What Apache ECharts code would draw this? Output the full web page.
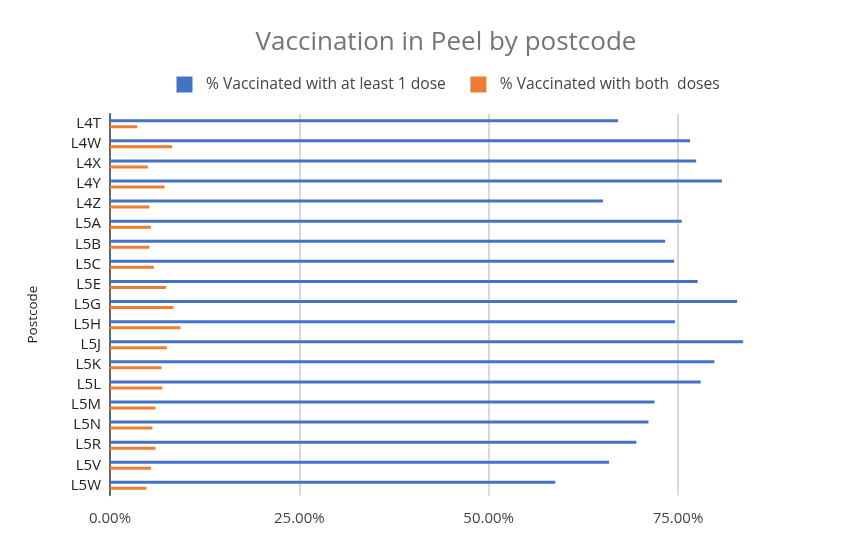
<!DOCTYPE html>
<html>
<head>
<meta charset="utf-8">
<script src="https://cdn.jsdelivr.net/npm/echarts@6/dist/echarts.min.js"></script>
<style>html,body{margin:0;padding:0;background:#fff}#c{width:855px;height:544px}</style>
</head>
<body>
<div id="c"></div>
<script>
var categories = ["L4T","L4W","L4X","L4Y","L4Z","L5A","L5B","L5C","L5E","L5G","L5H","L5J","L5K","L5L","L5M","L5N","L5R","L5V","L5W"];
var atLeastOne = [67.1,76.6,77.4,80.8,65.1,75.5,73.3,74.5,77.6,82.8,74.6,83.6,79.8,78.0,71.9,71.1,69.5,65.9,58.8];
var bothDoses = [3.6,8.2,5.0,7.2,5.2,5.4,5.2,5.8,7.4,8.4,9.3,7.5,6.8,6.9,6.0,5.6,6.0,5.4,4.8];
var seriesNames = ["% Vaccinated with at least 1 dose", "% Vaccinated with both  doses"];
var xTicks = [0, 25, 50, 75];

var font = "'Open Sans', 'Noto Sans', sans-serif";
var chart = echarts.init(document.getElementById('c'), null, {renderer: 'canvas'});
chart.setOption({
  animation: false,
  backgroundColor: '#ffffff',
  title: {
    text: 'Vaccination in Peel by postcode',
    left: 441, top: 25, textAlign: 'center',
    textStyle: {fontFamily: font, fontSize: 26, fontWeight: 'normal', color: '#757575'}
  },
  legend: {
    left: 171.5, top: 71.5,
    itemWidth: 16, itemHeight: 16, itemGap: 24.5,
    icon: 'rect',
    textStyle: {fontFamily: font, fontSize: 15.6, color: '#444444', padding: [0, 0, 0, 8.5]},
    data: seriesNames
  },
  grid: {left: 110, top: 113.7, right: 101.3, bottom: 48.6, containLabel: false},
  xAxis: {
    type: 'value', min: 0, max: 85, interval: 25,
    axisLine: {show: false}, axisTick: {show: false},
    axisLabel: {
      fontFamily: font, fontSize: 15, color: '#444444', margin: 15.5, showMaxLabel: false,
      formatter: function (v) { return xTicks.indexOf(v) >= 0 ? v.toFixed(2) + '%' : ''; }
    },
    splitLine: {show: true, showMinLine: false, showMaxLine: false, lineStyle: {color: '#cccccc', width: 1.5}}
  },
  yAxis: {
    type: 'category', data: categories, inverse: true,
    name: 'Postcode', nameLocation: 'middle', nameGap: 70,
    nameTextStyle: {fontFamily: font, fontSize: 13.5, color: '#222222', padding: [0, 20, 0, 0]},
    axisLine: {show: true, lineStyle: {color: '#333333', width: 1.5}},
    axisTick: {show: false},
    axisLabel: {fontFamily: font, fontSize: 15, color: '#222222', margin: 9}
  },
  series: [
    {name: seriesNames[0], type: 'bar', data: atLeastOne, barWidth: 3, barGap: '100%', itemStyle: {color: '#4472C4'}},
    {name: seriesNames[1], type: 'bar', data: bothDoses, barWidth: 3, barGap: '100%', itemStyle: {color: '#ED7D31'}}
  ]
});
</script>
</body>
</html>
